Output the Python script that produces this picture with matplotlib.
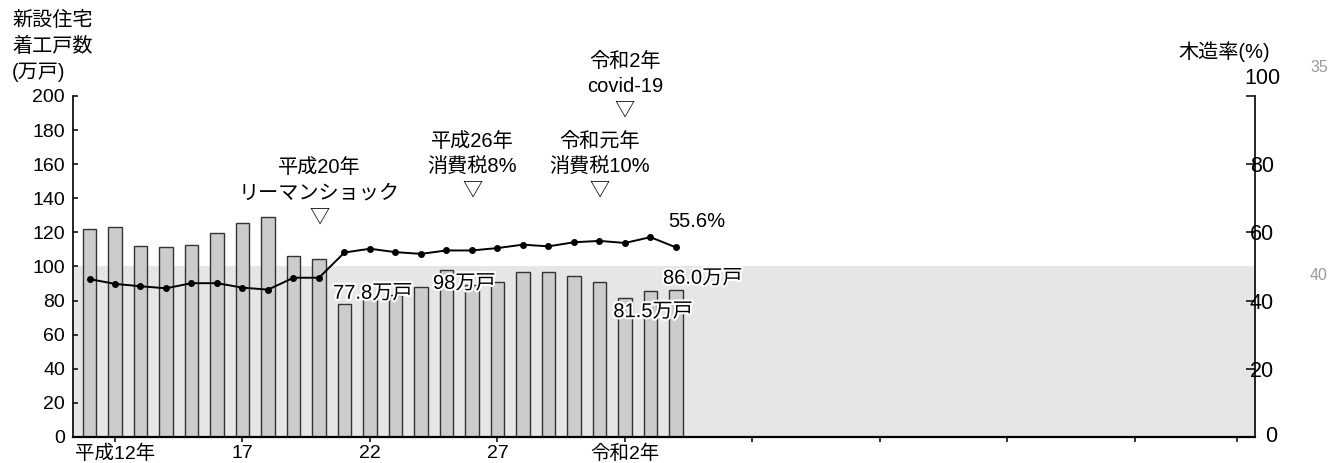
import matplotlib.pyplot as plt
import matplotlib.patheffects as pe

plt.rcParams['font.family'] = ['Liberation Sans', 'Noto Sans CJK JP', 'DejaVu Sans']

# 新設住宅着工戸数 (万戸) と 木造率 (%)
years = list(range(1999, 2023))
starts = [121.8, 123.2, 111.8, 111.4, 112.6, 119.8, 125.7, 129.0, 106.0, 104.4,
          77.8, 81.3, 83.4, 88.1, 98.0, 89.2, 91.1, 96.7, 96.6, 94.2,
          90.7, 81.5, 85.4, 86.0]
wood_ratio = [46.3, 44.9, 44.2, 43.6, 45.1, 45.1, 43.8, 43.2, 46.7, 46.7,
              54.1, 55.2, 54.2, 53.7, 54.7, 54.7, 55.4, 56.4, 55.9, 57.1,
              57.5, 56.9, 58.6, 55.6]

xtick_years = [2000, 2005, 2010, 2015, 2020, 2025, 2030, 2035, 2040, 2044]
xtick_labels = ['平成12年', '17', '22', '27', '令和2年', '', '', '', '', '']

# events marked with a triangle above the bars
event_years = [2008, 2014, 2019, 2020]
event_lines = [['平成20年', 'リーマンショック'],
               ['平成26年', '消費税8%'],
               ['令和元年', '消費税10%'],
               ['令和2年', 'covid-19']]
event_heights = [157.8, 173.2, 173.2, 220.1]

# labelled bars: year, text position
bar_notes = [(2009, 2008.55, 84.3, 'left'),
             (2013, 2013.7, 90.1, 'center'),
             (2020, 2021.1, 73.5, 'center'),
             (2022, 2023.05, 93.1, 'center')]

fig = plt.figure(figsize=(13.31, 4.63), dpi=100)
ax = fig.add_axes([0.0546, 0.0562, 0.8883, 0.7365])
ax2 = ax.twinx()

ax.set_xlim(1998.34, 2044.71)
ax.set_ylim(0, 200)
ax2.set_ylim(0, 100)

ax.axhspan(0, 100, color='#e6e6e6', zorder=0, lw=0)
ax.bar(years, starts, width=0.52, color='#cccccc', edgecolor='#333333',
       linewidth=1.0, zorder=2)
ax2.plot(years, wood_ratio, color='black', lw=1.4, marker='o', markersize=4,
         zorder=3)

halo = [pe.withStroke(linewidth=3, foreground='white')]
fs = 14.5
for yr, tx, ty, ha in bar_notes:
    v = starts[years.index(yr)]
    txt = f'{v:g}万戸' if v == int(v) and yr == 2013 else f'{v:.1f}万戸'
    ax.text(tx, ty, txt, ha=ha, va='center', fontsize=fs, zorder=5,
            path_effects=halo)
ax.text(2022.8, 126.3, f'{wood_ratio[-1]:.1f}%', ha='center', va='center',
        fontsize=fs, zorder=5)

for yr, lines, h in zip(event_years, event_lines, event_heights):
    ax.text(yr, h, lines[0], ha='center', va='center', fontsize=fs)
    ax.text(yr, h - 14.7, lines[1], ha='center', va='center', fontsize=fs)
    ax.text(yr, h - 28.6, '▽', ha='center', va='center', fontsize=fs,
            family=['Noto Sans CJK JP', 'DejaVu Sans'])

# axes styling
for a in (ax, ax2):
    a.spines['top'].set_visible(False)
ax.spines['right'].set_visible(False)
ax2.spines['left'].set_visible(False)
ax2.spines['bottom'].set_visible(False)
ax.spines['left'].set_linewidth(1.2)
ax.spines['bottom'].set_linewidth(1.6)
ax2.spines['right'].set_linewidth(1.2)

ax.set_yticks(range(0, 201, 20))
ax.tick_params(axis='y', direction='in', length=3.6, width=1.1, pad=5.5,
               labelsize=14)
ax.set_xticks(xtick_years)
ax.set_xticklabels(xtick_labels)
ax.tick_params(axis='x', direction='out', length=3.5, width=1.1, pad=2,
               labelsize=14)

ax2.set_yticks([20, 40, 60, 80, 100])
ax2.set_yticklabels(['20', '40', '60', '80', ''])
ax2.tick_params(axis='y', direction='in', length=6.5, width=1.1, pad=-3.6,
                labelsize=15.5)

W, H = 1331, 463
fig.text(1262 / W, 1 - 78 / H, '100', ha='center', va='center', fontsize=15.5)
fig.text(1265 / W, 1 - 437 / H, '0', ha='left', va='center', fontsize=15.5)

for i, line in enumerate(['新設住宅', '着工戸数', '(万戸)']):
    fig.text(12 / W, 1 - (20 + 26 * i) / H, line, ha='left', va='center',
             fontsize=fs)
fig.text(1270 / W, 1 - 52 / H, '木造率(%)', ha='right', va='center',
         fontsize=fs)

fig.text(1319 / W, 1 - 68 / H, '35', ha='center', va='center', fontsize=11.5,
         color='#9a9a9a')
fig.text(1319 / W, 1 - 276 / H, '40', ha='center', va='center', fontsize=11.5,
         color='#9a9a9a')

fig.savefig('out.png', dpi=100)
